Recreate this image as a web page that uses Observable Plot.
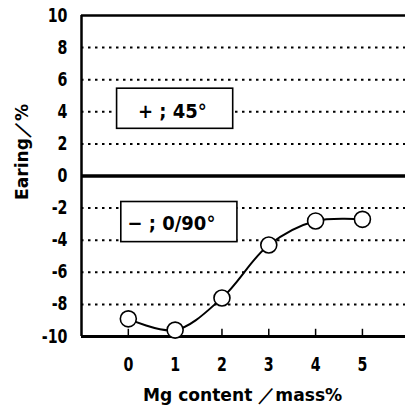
<!DOCTYPE html>
<html>
<head>
<meta charset="utf-8">
<script src="https://cdn.jsdelivr.net/npm/d3@7"></script>
<script src="https://cdn.jsdelivr.net/npm/@observablehq/plot@0.6"></script>
<style>
  html, body { margin: 0; padding: 0; background: #fff; }
  #chart svg { display: block; }
  #chart svg text { font-family: 'DejaVu Sans', sans-serif; }
</style>
</head>
<body>
<div id="chart"></div>
<script>
// Data
const mgContent = [0, 1, 2, 3, 4, 5];
const earing = [-8.9, -9.6, -7.6, -4.3, -2.8, -2.7];
const yTickValues = [10, 8, 6, 4, 2, 0, -2, -4, -6, -8, -10];
const gridValues = [8, 6, 4, 2, -2, -4, -6, -8];
const xTickValues = [0, 1, 2, 3, 4, 5];
const legendLabels = ["+ ; 45°", "− ; 0/90°"];
const xTitle = "Mg content ／mass%";
const yTitle = "Earing／%";

const data = mgContent.map((m, i) => ({m, e: earing[i]}));

// annotation boxes (data coordinates)
const boxes = [
  {x1: -0.24, x2: 2.24, y1: 2.94, y2: 5.44, tx: 0.94, ty: 4.0, label: legendLabels[0]},
  {x1: -0.15, x2: 2.33, y1: -4.12, y2: -1.62, tx: 0.92, ty: -2.95, label: legendLabels[1]}
];

const chart = Plot.plot({
  width: 405,
  height: 408,
  marginLeft: 81,
  marginRight: 0,
  marginTop: 15,
  marginBottom: 72,
  style: {fontSize: "19px", fontWeight: "bold", background: "#fff", color: "#000"},
  x: {domain: [-1, 5.92]},
  y: {domain: [-10, 10]},
  marks: [
    Plot.gridY(gridValues, {stroke: "#000", strokeOpacity: 1, strokeWidth: 2, strokeDasharray: "2.5,4.5"}),
    Plot.ruleY([0], {stroke: "#000", strokeWidth: 3.5}),
    Plot.ruleY([10], {stroke: "#000", strokeWidth: 2.5}),
    Plot.ruleY([-10], {stroke: "#000", strokeWidth: 3}),
    Plot.ruleX([-1], {stroke: "#000", strokeWidth: 2.5}),
    Plot.ruleX(xTickValues, {x: d => d, y1: -10, y2: -9.55, stroke: "#000", strokeWidth: 1.5}),
    Plot.axisY(yTickValues, {tickSize: 0, tickPadding: 14, tickFormat: d => String(d), label: null, fontSize: 19, fontWeight: "bold", className: "sq-tick"}),
    Plot.axisX(xTickValues, {tickSize: 0, tickPadding: 21, label: null, fontSize: 19, fontWeight: "bold", className: "sq-tick"}),
    Plot.rect(boxes, {x1: "x1", x2: "x2", y1: "y1", y2: "y2", fill: "#fff", stroke: "#000", strokeWidth: 1.6}),
    Plot.text(boxes, {x: "tx", y: "ty", text: "label", fontSize: 20, fontWeight: "bold", fill: "#000", className: "sq-legend"}),
    Plot.line(data, {x: "m", y: "e", curve: "catmull-rom", stroke: "#000", strokeWidth: 2}),
    Plot.dot(data, {x: "m", y: "e", r: 8, fill: "#fff", stroke: "#000", strokeWidth: 1.6}),
    Plot.text([xTitle], {x: 2.44, y: -10, dy: 59, text: d => d, fontSize: 18, fontWeight: "bold", fill: "#000", className: "sq-title"}),
    Plot.text([yTitle], {x: -1, y: 1.5, dx: -59, rotate: -90, text: d => d, fontSize: 18, fontWeight: "bold", fill: "#000", className: "sq-title"})
  ]
});
document.getElementById("chart").appendChild(chart);

// horizontally condense glyphs (no narrow font installed)
function squeeze(cls, factor) {
  chart.querySelectorAll(`.${cls} text`).forEach(t => {
    const len = t.getComputedTextLength();
    t.setAttribute("textLength", (len * factor).toFixed(1));
    t.setAttribute("lengthAdjust", "spacingAndGlyphs");
  });
}
squeeze("sq-tick", 0.75);
squeeze("sq-legend", 0.9);
squeeze("sq-title", 0.95);
</script>
</body>
</html>
